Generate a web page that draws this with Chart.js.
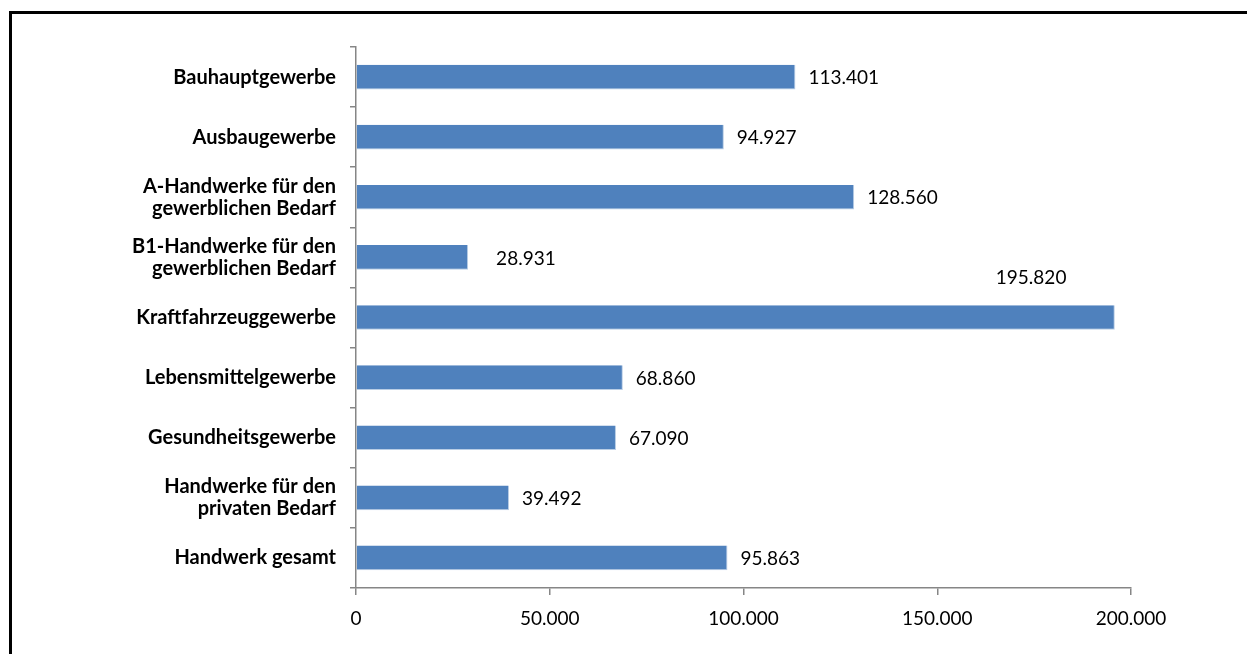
<!DOCTYPE html>
<html lang="de">
<head>
<meta charset="UTF-8">
<title>Handwerk</title>
<script src="https://cdn.jsdelivr.net/npm/chart.js@4/dist/chart.umd.min.js"></script>
<style>
    html, body { margin: 0; padding: 0; background: #fff; overflow: hidden; }
    #frame {
        position: absolute;
        left: 9px; top: 11px;
        width: 1300px; height: 700px;
        border: 3px solid #000;
    }
    #wrap { position: absolute; left: 0; top: 0; width: 1247px; height: 654px; }
</style>
</head>
<body>
<div id="frame"></div>
<div id="wrap"><canvas id="myBarChart" width="1247" height="654"></canvas></div>
<script>
// categories, top to bottom
var categories = [
    'Bauhauptgewerbe',
    'Ausbaugewerbe',
    ['A-Handwerke für den', 'gewerblichen Bedarf'],
    ['B1-Handwerke für den', 'gewerblichen Bedarf'],
    'Kraftfahrzeuggewerbe',
    'Lebensmittelgewerbe',
    'Gesundheitsgewerbe',
    ['Handwerke für den', 'privaten Bedarf'],
    'Handwerk gesamt'
];
var values = [113401, 94927, 128560, 28931, 195820, 68860, 67090, 39492, 95863];
var xTicks = [0, 50000, 100000, 150000, 200000];

function fmt(v) {
    return v.toLocaleString('de-DE');
}

// value labels next to bar ends (a couple were moved by hand in the original)
var valueLabels = {
    id: 'valueLabels',
    afterDatasetsDraw: function (chart) {
        var ctx = chart.ctx;
        var meta = chart.getDatasetMeta(0);
        ctx.save();
        ctx.font = '19px Lato';
        ctx.fillStyle = '#000';
        ctx.textBaseline = 'middle';
        meta.data.forEach(function (bar, i) {
            var x = bar.x + 13;
            var y = bar.y + 1;
            if (i === 3) x = bar.x + 28;
            if (i === 4) { x = bar.x - 119; y = bar.y - 40; }
            ctx.fillText(fmt(values[i]), x, y);
        });
        ctx.restore();
    }
};

var ctx = document.getElementById('myBarChart').getContext('2d');
var myBarChart = new Chart(ctx, {
    type: 'bar',
    data: {
        labels: categories,
        datasets: [{
            data: values,
            backgroundColor: '#4F81BD',
            borderColor: '#b9cde5',
            borderWidth: { top: 0, left: 0, right: 1, bottom: 1 },
            barPercentage: 0.41,
            categoryPercentage: 1
        }]
    },
    options: {
        indexAxis: 'y',
        responsive: false,
        animation: false,
        layout: { padding: { top: 47, right: 116, bottom: 0, left: 0 } },
        plugins: {
            legend: { display: false },
            tooltip: { enabled: false }
        },
        scales: {
            x: {
                min: 0,
                max: 200000,
                afterBuildTicks: function (axis) {
                    axis.ticks = xTicks.map(function (v) { return { value: v }; });
                },
                afterFit: function (axis) { axis.height = 66; },
                border: { color: '#868686', width: 1.5 },
                grid: { drawOnChartArea: false, color: '#868686', tickLength: 7, lineWidth: 1.5 },
                ticks: {
                    color: '#000',
                    font: { family: 'Lato', size: 19 },
                    padding: 12,
                    maxRotation: 0,
                    callback: function (v) { return fmt(v); }
                }
            },
            y: {
                afterFit: function (axis) { axis.width = 356; },
                border: { color: '#868686', width: 1.5 },
                grid: { drawOnChartArea: false, color: '#868686', tickLength: 6, lineWidth: 1.5 },
                ticks: {
                    color: '#000',
                    font: { family: 'Lato', size: 20, weight: 'bold', lineHeight: 1.1 },
                    padding: 14
                }
            }
        }
    },
    plugins: [valueLabels]
});
</script>
</body>
</html>
